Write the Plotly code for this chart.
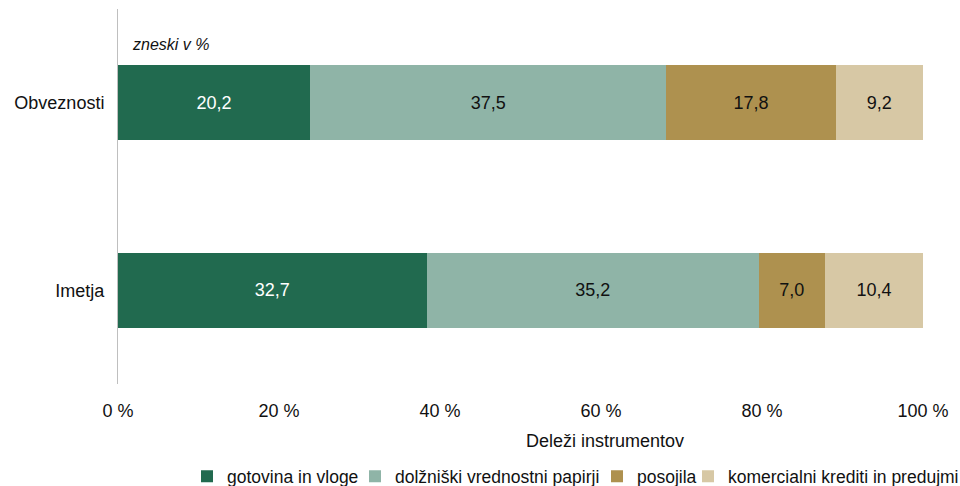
import plotly.graph_objects as go

# Categories (bottom to top) and instrument shares, bars normalised to 100 %
categories = ["Imetja", "Obveznosti"]
series_names = [
    "gotovina in vloge",
    "dolžniški vrednostni papirji",
    "posojila",
    "komercialni krediti in predujmi",
]
gotovina = [32.7, 20.2]
dolzniski = [35.2, 37.5]
posojila = [7.0, 17.8]
komercialni = [10.4, 9.2]
series_values = [gotovina, dolzniski, posojila, komercialni]

tick_values = [0, 20, 40, 60, 80, 100]
tick_labels = [f"{v} %" for v in tick_values]

colors = ["#216a4f", "#8fb4a7", "#ae914f", "#d7c8a5"]
text_colors = ["#ffffff", "#111111", "#111111", "#111111"]

FONT = "Liberation Sans, Arial, sans-serif"
FS = 18
LEG_FS = 17.5

# one legend per series so the entries sit in a single row along the bottom
legend_ids = ["legend", "legend2", "legend3", "legend4"]
legend_x = [187, 355, 597, 688]  # left edges in px within the 960 px container

fig = go.Figure()
for name, vals, col, tcol, lid in zip(series_names, series_values, colors, text_colors, legend_ids):
    fig.add_trace(go.Bar(
        y=categories,
        x=vals,
        name=name,
        orientation="h",
        legend=lid,
        marker=dict(color=col, line=dict(width=0)),
        text=[f"{v:.1f}".replace(".", ",") for v in vals],
        textposition="inside",
        insidetextanchor="middle",
        textangle=0,
        textfont=dict(color=tcol, size=FS, family=FONT),
        hoverinfo="skip",
    ))

legend_layouts = {}
for lid, lx in zip(legend_ids, legend_x):
    legend_layouts[lid] = dict(
        orientation="h",
        xref="container",
        yref="container",
        x=lx / 960,
        xanchor="left",
        y=0.02,
        yanchor="middle",
        font=dict(size=LEG_FS, family=FONT, color="#111111"),
        itemwidth=30,
        bgcolor="rgba(0,0,0,0)",
        borderwidth=0,
    )

fig.update_layout(
    width=960,
    height=486,
    barmode="stack",
    barnorm="percent",
    bargap=0.6,
    plot_bgcolor="white",
    paper_bgcolor="white",
    font=dict(family=FONT, size=FS, color="#111111"),
    margin=dict(l=118, r=37, t=9, b=102, autoexpand=False),
    uniformtext=dict(minsize=10, mode="show"),
    showlegend=True,
    xaxis=dict(
        range=[0, 100],
        tickmode="array",
        tickvals=tick_values,
        ticktext=tick_labels,
        showgrid=False,
        zeroline=False,
        showline=False,
        ticks="",
        ticklabelstandoff=14,
        tickfont=dict(size=FS, family=FONT, color="#111111"),
    ),
    yaxis=dict(
        categoryorder="array",
        categoryarray=categories,
        showgrid=False,
        zeroline=False,
        showline=True,
        linecolor="#bfbfbf",
        linewidth=1,
        ticks="",
        ticklabelstandoff=9,
        tickfont=dict(size=FS, family=FONT, color="#111111"),
    ),
    annotations=[
        dict(
            text="zneski v %",
            xref="paper", yref="paper",
            x=0.015, y=0.904,
            xanchor="left", yanchor="middle",
            showarrow=False,
            font=dict(size=16, family=FONT, color="#111111", style="italic"),
        ),
        dict(
            text="Deleži instrumentov",
            xref="paper", yref="paper",
            x=0.605, y=-0.152,
            xanchor="center", yanchor="middle",
            showarrow=False,
            font=dict(size=FS, family=FONT, color="#111111"),
        ),
    ],
    **legend_layouts,
)

fig.write_html("out.html")
